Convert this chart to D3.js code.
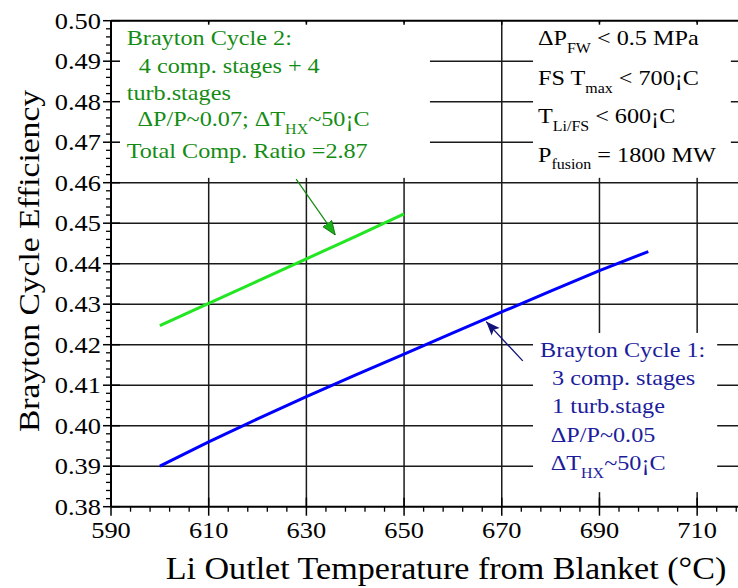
<!DOCTYPE html>
<html><head><meta charset="utf-8">
<script src="https://cdn.jsdelivr.net/npm/d3@7"></script>
<style>
html,body{margin:0;padding:0;background:#fff;}
svg{display:block;font-family:"Liberation Serif","Times New Roman",serif;}
</style></head>
<body>
<svg id="chart" width="738" height="588"></svg>
<script>
// ---------- data ----------
const cycle1Temp = [600, 610, 620, 630, 640, 650, 660, 670, 680, 690, 700];
const cycle1Eff  = [0.3900, 0.3960, 0.4017, 0.4072, 0.4125, 0.4177, 0.4229, 0.4281, 0.4332, 0.4383, 0.4430];
const cycle2Temp = [600, 610, 620, 630, 640, 650];
const cycle2Eff  = [0.4247, 0.4302, 0.4357, 0.4412, 0.4467, 0.4523];
const xTickValues = [590, 610, 630, 650, 670, 690, 710];
const yTickValues = [0.38, 0.39, 0.40, 0.41, 0.42, 0.43, 0.44, 0.45, 0.46, 0.47, 0.48, 0.49, 0.50];
const xTitle = "Li Outlet Temperature from Blanket (°C)";
const yTitle = "Brayton Cycle Efficiency";
const cycle2Text = [
  [{t:"Brayton Cycle 2:"}],
  [{t:"  4 comp. stages + 4"}],
  [{t:"turb.stages"}],
  [{t:"  ΔP/P~0.07; ΔT"},{t:"HX",sub:true},{t:"~50¡C"}],
  [{t:"Total Comp. Ratio =2.87"}]
];
const cycle1Text = [
  [{t:"Brayton Cycle 1:"}],
  [{t:"  3 comp. stages"}],
  [{t:"  1 turb.stage"}],
  [{t:"  ΔP/P~0.05"}],
  [{t:"  ΔT"},{t:"HX",sub:true},{t:"~50¡C"}]
];
const constraintText = [
  [{t:"ΔP"},{t:"FW",sub:true},{t:" < 0.5 MPa"}],
  [{t:"FS T"},{t:"max",sub:true},{t:" < 700¡C"}],
  [{t:"T"},{t:"Li/FS",sub:true},{t:" < 600¡C"}],
  [{t:"P"},{t:"fusion",sub:true},{t:" = 1800 MW"}]
];

// ---------- layout ----------
const svg = d3.select("#chart");
const x = d3.scaleLinear().domain([590, 720]).range([111, 746]);
const y = d3.scaleLinear().domain([0.38, 0.50]).range([506.7, 20.7]);
const STRETCH = 1.1;
const gridColor = "#1a1a1a";

// gridlines
const gGrid = svg.append("g");
gGrid.selectAll("line.h").data(yTickValues.filter(v => v > 0.385 && v < 0.495)).join("line")
  .attr("x1", x(590)).attr("x2", x(720)).attr("y1", d => y(d)).attr("y2", d => y(d))
  .attr("stroke", gridColor).attr("stroke-width", 1.5);
gGrid.selectAll("line.v").data(xTickValues.filter(v => v > 595)).join("line")
  .attr("x1", d => x(d)).attr("x2", d => x(d)).attr("y1", y(0.50)).attr("y2", y(0.38))
  .attr("stroke", gridColor).attr("stroke-width", 1.5);

// white annotation boxes (cover gridlines)
const boxes = [
  {x0: 590.2, x1: 655.3, y0: 0.4995, y1: 0.4612},
  {x0: 676.4, x1: 716.9, y0: 0.4995, y1: 0.4612},
  {x0: 676.4, x1: 714.1, y0: 0.4229, y1: 0.3836}
];
svg.append("g").selectAll("rect").data(boxes).join("rect")
  .attr("x", d => x(d.x0)).attr("y", d => y(d.y0))
  .attr("width", d => x(d.x1) - x(d.x0)).attr("height", d => y(d.y1) - y(d.y0))
  .attr("fill", "#fff");

// axes frame
const gAx = svg.append("g");
gAx.append("line").attr("x1", x(590)).attr("x2", x(590)).attr("y1", y(0.50)).attr("y2", y(0.38))
  .attr("stroke", "#000").attr("stroke-width", 2);
gAx.append("line").attr("x1", x(590)).attr("x2", x(720)).attr("y1", y(0.38)).attr("y2", y(0.38))
  .attr("stroke", "#000").attr("stroke-width", 2);
gAx.append("line").attr("x1", x(590)).attr("x2", x(720)).attr("y1", y(0.50)).attr("y2", y(0.50))
  .attr("stroke", "#000").attr("stroke-width", 2);

// left axis ticks (major crossing, minor outward)
const yMinor = d3.range(0.38, 0.5001, 0.002).filter(v => Math.abs(Math.round(v*100) - v*100) > 1e-6);
gAx.selectAll("line.ymin").data(yMinor).join("line")
  .attr("x1", x(590) - 5).attr("x2", x(590)).attr("y1", d => y(d)).attr("y2", d => y(d))
  .attr("stroke", "#000").attr("stroke-width", 1.3);
gAx.selectAll("line.ymaj").data(yTickValues).join("line")
  .attr("x1", x(590) - 8).attr("x2", x(590) + 9).attr("y1", d => y(d)).attr("y2", d => y(d))
  .attr("stroke", "#000").attr("stroke-width", 1.5);

// bottom axis ticks
const xMinor = d3.range(590, 720, 4).filter(v => (v - 590) % 20 !== 0);
gAx.selectAll("line.xmin").data(xMinor).join("line")
  .attr("x1", d => x(d)).attr("x2", d => x(d)).attr("y1", y(0.38)).attr("y2", y(0.38) + 5)
  .attr("stroke", "#000").attr("stroke-width", 1.3);
gAx.selectAll("line.xmaj").data(xTickValues).join("line")
  .attr("x1", d => x(d)).attr("x2", d => x(d)).attr("y1", y(0.38) - 9).attr("y2", y(0.38) + 9)
  .attr("stroke", "#000").attr("stroke-width", 1.5);
// top frame ticks
gAx.selectAll("line.xtop").data(xTickValues).join("line")
  .attr("x1", d => x(d)).attr("x2", d => x(d)).attr("y1", y(0.50)).attr("y2", y(0.50) + 4)
  .attr("stroke", "#000").attr("stroke-width", 1.5);

// stretched text helper
function stext(parent, px, py, parts, opts) {
  const o = Object.assign({size: 24, fill: "#000", anchor: "start", rotate: 0, subSize: 14.5, subDy: 7.5}, opts || {});
  const g = parent.append("g")
    .attr("transform", `translate(${px},${py}) rotate(${o.rotate}) scale(${STRETCH},1)`);
  const t = g.append("text").attr("x", 0).attr("y", 0)
    .attr("font-size", o.size).attr("fill", o.fill).attr("text-anchor", o.anchor)
    .style("white-space", "pre").attr("xml:space", "preserve");
  let shifted = false;
  parts.forEach(p => {
    const ts = t.append("tspan").text(p.t);
    if (p.sub) { ts.attr("font-size", o.subSize).attr("dy", o.subDy); shifted = true; }
    else if (shifted) { ts.attr("dy", -o.subDy); shifted = false; }
  });
  return g;
}

// tick labels
const gLab = svg.append("g");
yTickValues.forEach(v => stext(gLab, x(590) - 10, y(v) + 8, [{t: d3.format(".2f")(v)}], {size: 24, anchor: "end"}));
xTickValues.forEach(v => stext(gLab, x(v), y(0.38) + 31, [{t: String(v)}], {size: 24, anchor: "middle"}));

// axis titles
stext(svg, 446, 579, [{t: xTitle}], {size: 31, anchor: "middle"});
stext(svg, 39, 261, [{t: yTitle}], {size: 30.5, anchor: "middle", rotate: -90});

// data lines
const line = d3.line().x(d => x(d[0])).y(d => y(d[1]));
svg.append("path").datum(cycle2Temp.map((t, i) => [t, cycle2Eff[i]]))
  .attr("d", line).attr("fill", "none").attr("stroke", "#22e622").attr("stroke-width", 3);
svg.append("path").datum(cycle1Temp.map((t, i) => [t, cycle1Eff[i]]))
  .attr("d", line).attr("fill", "none").attr("stroke", "#0000ff").attr("stroke-width", 3);

// arrows
const defs = svg.append("defs");
defs.append("marker").attr("id", "ahG").attr("viewBox", "0 -6 14 12").attr("refX", 14).attr("refY", 0)
  .attr("markerWidth", 14).attr("markerHeight", 12).attr("markerUnits", "userSpaceOnUse").attr("orient", "auto")
  .append("path").attr("d", "M0,-5.5L14,0L0,5.5Z").attr("fill", "#19b219").attr("stroke", "#0a700a").attr("stroke-width", 0.8);
defs.append("marker").attr("id", "ahB").attr("viewBox", "0 -6 14 12").attr("refX", 14).attr("refY", 0)
  .attr("markerWidth", 14).attr("markerHeight", 12).attr("markerUnits", "userSpaceOnUse").attr("orient", "auto")
  .append("path").attr("d", "M0,-5.5L14,0L0,5.5L3,0Z").attr("fill", "#12127a");

svg.append("line").attr("x1", x(627.9)).attr("y1", y(0.4609)).attr("x2", x(635.9)).attr("y2", y(0.4471))
  .attr("stroke", "#128a12").attr("stroke-width", 1.2).attr("marker-end", "url(#ahG)");
svg.append("line").attr("x1", x(674.3)).attr("y1", y(0.4160)).attr("x2", x(666.8)).attr("y2", y(0.4257))
  .attr("stroke", "#12127a").attr("stroke-width", 1.3).attr("marker-end", "url(#ahB)");

// annotation texts
const greenCol = "#148c14", blueCol = "#1c1c9c";
const gBase = [45, 72.7, 100, 126, 157.5];
cycle2Text.forEach((parts, i) => stext(svg, 126.7, gBase[i], parts, {size: 22, fill: greenCol}));
const bBase = [357.3, 385, 413, 441.7, 470];
cycle1Text.forEach((parts, i) => stext(svg, 540, bBase[i], parts, {size: 22, fill: blueCol}));
const kBase = [45, 85, 123, 161.7];
constraintText.forEach((parts, i) => stext(svg, 538, kBase[i], parts, {size: 22, fill: "#000"}));
</script>
</body></html>
